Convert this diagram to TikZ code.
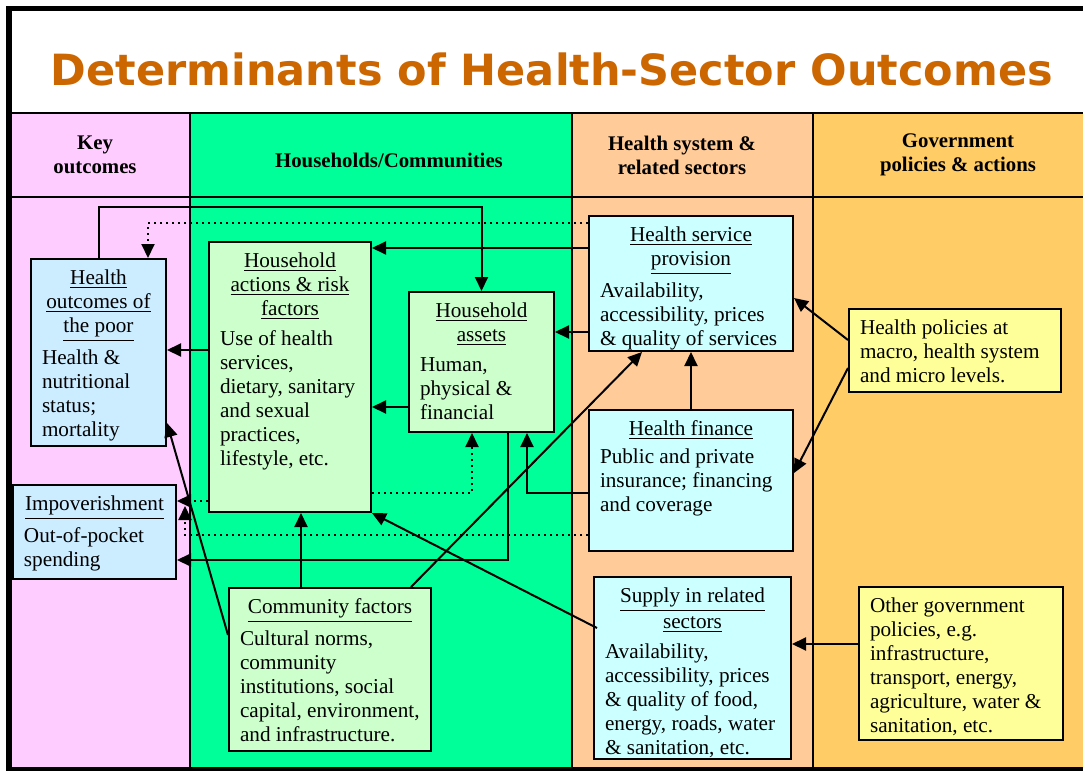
\documentclass[tikz,border=0pt]{standalone}
\usepackage{fontspec}
\setmainfont{Liberation Serif}
\newfontfamily\titlefont{DejaVu Sans}
\usetikzlibrary{arrows.meta}

\definecolor{keypink}{HTML}{FFCCFF}
\definecolor{hhgreen}{HTML}{00FF99}
\definecolor{hspeach}{HTML}{FFCC99}
\definecolor{govorange}{HTML}{FFCC66}
\definecolor{outblue}{HTML}{CCECFF}
\definecolor{hhbox}{HTML}{CCFFCC}
\definecolor{hsbox}{HTML}{CCFFFF}
\definecolor{govbox}{HTML}{FFFF99}
\definecolor{titleorange}{HTML}{CC6600}

\newcommand{\uln}[1]{\underline{#1}}
% box text: width and height in px, title lines, body lines
\newcommand{\boxtext}[4]{%
  \parbox[t][\dimexpr#2pt/2-9pt\relax][t]{\dimexpr#1pt/2-11pt\relax}{%
    \ifx\relax#3\relax\else
      {\centering\begin{tabular}[t]{@{}c@{}}#3\end{tabular}\par}\vspace{2pt}\fi
    \begin{tabular}[t]{@{}l@{}}#4\end{tabular}}}

\tikzset{
  box/.style={draw, line width=1pt, inner xsep=5.5pt, inner ysep=4.5pt,
    anchor=north west, font=\fontsize{10.6}{12}\selectfont},
  head/.style={align=center, font=\bfseries\fontsize{10.4}{12}\selectfont},
  conn/.style={line width=1pt, -{Triangle[length=7pt,width=6.5pt]}},
  dotconn/.style={conn, dotted},
}

\begin{document}
\begin{tikzpicture}[x=0.5pt, y=-0.5pt]
    \useasboundingbox (0,0) rectangle (1083,771);
    \clip (0,0) rectangle (1083,771);
    \fill[white] (0,0) rectangle (1083,771);
    % Columns
    \foreach \xa/\xb/\col in {10/190/keypink, 190/572/hhgreen, 572/813/hspeach, 813/1083/govorange} {
      \fill[\col] (\xa,113) rectangle (\xb,771);
    }
    \foreach \x in {190, 572, 813} {
      \draw[line width=0.8pt] (\x,113) -- (\x,771);
    }
    \draw[line width=0.8pt] (10,113) -- (1083,113);
    \draw[line width=0.8pt] (10,197) -- (1083,197);
    % Frame
    \draw[line width=2.8pt] (1100,8.5) -- (9,8.5) -- (9,769.5) -- (1100,769.5);

    % Title and headers
    \node[anchor=base, text=titleorange, font=\titlefont\bfseries\fontsize{21.5}{24}\selectfont] (title) at (552,85) {Determinants of Health-Sector Outcomes};
    \node[head] (hkey) at (95,155) {Key\\outcomes};
    \node[head] (hhh) at (389,160) {Households/Communities};
    \node[head] (hhs) at (682,155) {Health system \&\\related sectors};
    \node[head] (hgov) at (958,155) {Government\\policies \& actions};

    % Boxes
    \node[box, fill=outblue] (ho) at (30,258) {\boxtext{135}{187}{\uln{Health}\\\uln{outcomes of}\\\uln{the poor}}{Health \&\\nutritional\\status;\\mortality}};
    \node[box, fill=outblue] (imp) at (12,484) {\boxtext{163}{94}{\uln{Impoverishment}}{Out-of-pocket\\spending}};
    \node[box, fill=hhbox] (ha) at (208,241) {\boxtext{162}{270}{\uln{Household}\\\uln{actions \& risk}\\\uln{factors}}{Use of health\\services,\\dietary, sanitary\\and sexual\\practices,\\lifestyle, etc.}};
    \node[box, fill=hhbox] (hass) at (408,291) {\boxtext{145}{140}{\uln{Household}\\\uln{assets}}{Human,\\physical \&\\financial}};
    \node[box, fill=hhbox] (cf) at (228,587) {\boxtext{202}{163}{\uln{Community factors}}{Cultural norms,\\community\\institutions, social\\capital, environment,\\and infrastructure.}};
    \node[box, fill=hsbox] (hsp) at (588,215) {\boxtext{204}{135}{\uln{Health service}\\\uln{provision}}{Availability,\\accessibility, prices\\\& quality of services}};
    \node[box, fill=hsbox] (hf) at (588,409) {\boxtext{204}{141}{\uln{Health finance}}{Public and private\\insurance; financing\\and coverage}};
    \node[box, fill=hsbox] (sup) at (593,576) {\boxtext{197}{182}{\uln{Supply in related}\\\uln{sectors}}{Availability,\\accessibility, prices\\\& quality of food,\\energy, roads, water\\\& sanitation, etc.}};
    \node[box, fill=govbox] (hp) at (848,308) {\boxtext{212}{83}{}{Health policies at\\macro, health system\\and micro levels.}};
    \node[box, fill=govbox] (ogp) at (858,586) {\boxtext{204}{153}{}{Other government\\policies, e.g.\\infrastructure,\\transport, energy,\\agriculture, water \&\\sanitation, etc.}};

    % Arrows
    \draw[conn] (ho.north) -- (ho.north |- 0,207) -| (hass.north);
    \draw[dotconn] ([yshift=-4pt]hsp.north west) -| ([xshift=24.75pt]ho.north);
    \draw[conn] ([yshift=-16.5pt]hsp.north west) coordinate (t1) -- (t1 -| ha.east);
    \draw[conn] ([yshift=-58.5pt]hsp.north west) coordinate (t2) -- (t2 -| hass.east);
    \draw[conn] ([yshift=-58pt]hass.north west) coordinate (t3) -- (t3 -| ha.east);
    \draw[conn] ([yshift=-54.5pt]ha.north west) coordinate (t4) -- (t4 -| ho.east);
    \draw[conn] (hf.north) -- (hsp.south);
    \draw[conn] ([yshift=-42pt]hf.north west) -| ([xshift=22.75pt]hass.south);
    \draw[dotconn] ([yshift=-126pt]ha.north east) -| ([xshift=-4.75pt]hass.south);
    \draw[dotconn] ([yshift=-130pt]ha.north west) coordinate (t5) -- (t5 -| imp.east);
    \draw[dotconn] ([yshift=-63pt]hf.north west) -| ([xshift=4pt,yshift=-11pt]imp.north east);
    \draw[conn] ([xshift=13.25pt]hass.south) |- ([yshift=-38pt]imp.north east);
    \coordinate (cfup) at ([xshift=5.5pt]ha.south);
    \draw[conn] (cfup |- cf.north) -- (cfup);
    \draw[conn] ([yshift=-24pt]cf.north west) -- ([yshift=12pt]ho.south east);
    \draw[conn] ([xshift=-10.5pt]cf.north east) -- ([xshift=-24.5pt]hsp.south);
    \draw[conn] ([xshift=2pt,yshift=-26pt]sup.north west) -- (ha.south east);
    \draw[conn] ([yshift=-16pt]hp.north west) -- ([yshift=-41.5pt]hsp.north east);
    \draw[conn] ([yshift=-30pt]hp.north west) -- ([yshift=-32pt]hf.north east);
    \draw[conn] ([yshift=-29pt]ogp.north west) coordinate (t6) -- (t6 -| sup.east);
  \end{tikzpicture}
\end{document}
